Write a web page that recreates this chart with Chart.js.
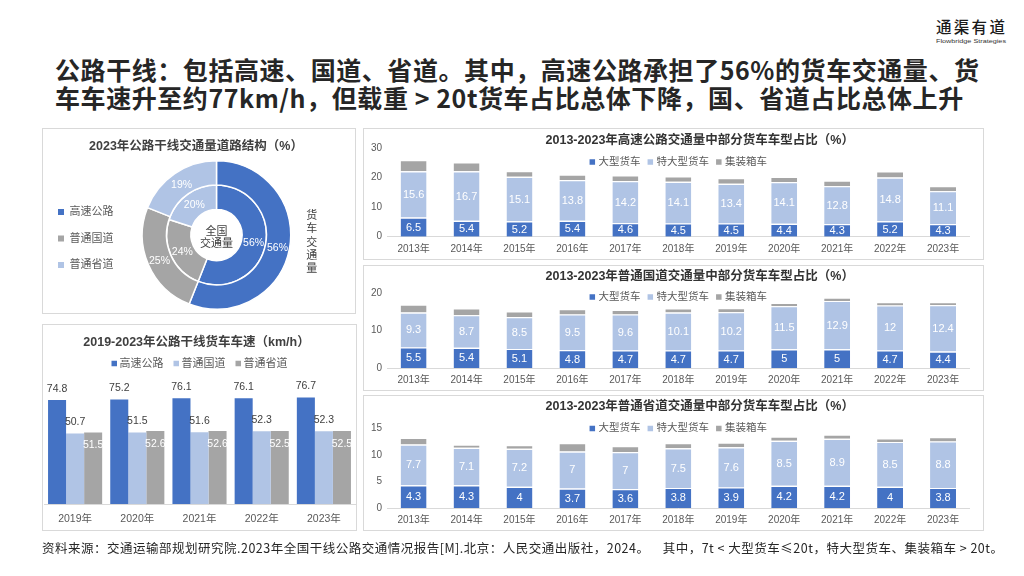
<!DOCTYPE html>
<html lang="zh-CN">
<head>
<meta charset="utf-8">
<title>公路干线货车交通量结构</title>
<script src="https://cdn.jsdelivr.net/npm/chart.js@4.4.1/dist/chart.umd.min.js"></script>
<style>
html,body{margin:0;padding:0;background:#fff;}
body{width:1024px;height:576px;position:relative;overflow:hidden;font-family:'Noto Sans CJK SC','Liberation Sans',sans-serif;}
.panel{position:absolute;border:1px solid #D9D9D9;box-sizing:border-box;background:#fff;}
.box{position:absolute;}
.hl{position:absolute;left:55px;font-size:25px;font-weight:700;color:#262626;white-space:nowrap;line-height:28px;}
#logo1{position:absolute;left:936px;top:17px;font-size:15.5px;font-weight:500;color:#1a1a1a;white-space:nowrap;letter-spacing:2.3px;line-height:18px;}
#logo2{position:absolute;left:936px;top:38px;font-size:6px;color:#333;white-space:nowrap;line-height:7px;font-family:'Liberation Sans',sans-serif;}
#foot{position:absolute;left:42px;top:540px;font-size:12.5px;color:#262626;white-space:pre;line-height:16px;}
</style>
</head>
<body>
<div id="logo1">通渠有道</div>
<div id="logo2">Flowbridge Strategies</div>
<div class="hl" id="hl1" style="top:55px">公路干线：包括高速、国道、省道。其中，高速公路承担了56%的货车交通量、货</div>
<div class="hl" id="hl2" style="top:83px">车车速升至约77km/h，但载重 &gt; 20t货车占比总体下降，国、省道占比总体上升</div>

<div class="panel" style="left:42px;top:128px;width:314px;height:186px"></div>
<div class="panel" style="left:42px;top:324px;width:315px;height:207px"></div>
<div class="panel" style="left:363px;top:128px;width:621px;height:132px"></div>
<div class="panel" style="left:363px;top:265px;width:621px;height:126px"></div>
<div class="panel" style="left:363px;top:395px;width:621px;height:136px"></div>

<div class="box" style="left:42px;top:129px;width:314px;height:184px"><canvas id="cPie"></canvas></div>
<div class="box" style="left:42px;top:325px;width:315px;height:215px"><canvas id="cSpeed"></canvas></div>
<div class="box" style="left:363px;top:129px;width:620px;height:135px"><canvas id="cExp"></canvas></div>
<div class="box" style="left:363px;top:266px;width:620px;height:130px"><canvas id="cNat"></canvas></div>
<div class="box" style="left:363px;top:395px;width:620px;height:141px"><canvas id="cProv"></canvas></div>

<div id="foot">资料来源：交通运输部规划研究院.2023年全国干线公路交通情况报告[M].北京：人民交通出版社，2024。    其中，7t &lt; 大型货车≤20t，特大型货车、集装箱车 &gt; 20t。</div>

<script>
// ---------------- data ----------------
const roadTypes = ['高速公路', '普通国道', '普通省道'];
const truckVolumeShare = [56, 25, 19];   // outer ring: 货车交通量
const totalVolumeShare = [56, 24, 20];   // inner ring: 全国交通量

const speedYears = ['2019年', '2020年', '2021年', '2022年', '2023年'];
const speedExpressway = [74.8, 75.2, 76.1, 76.1, 76.7];
const speedNational = [50.7, 51.5, 51.6, 52.3, 52.3];
const speedProvincial = [51.5, 52.6, 52.6, 52.5, 52.5];

const years = ['2013年', '2014年', '2015年', '2016年', '2017年', '2018年', '2019年', '2020年', '2021年', '2022年', '2023年'];
const truckTypes = ['大型货车', '特大型货车', '集装箱车'];

const expLarge = [6.5, 5.4, 5.2, 5.4, 4.6, 4.5, 4.5, 4.4, 4.3, 5.2, 4.3];
const expXLarge = [15.6, 16.7, 15.1, 13.8, 14.2, 14.1, 13.4, 14.1, 12.8, 14.8, 11.1];
const expContainer = [3.8, 3.1, 1.9, 1.8, 2.0, 1.8, 1.9, 1.8, 1.9, 2.1, 1.7];
const expTicks = [0, 10, 20, 30];

const natLarge = [5.5, 5.4, 5.1, 4.8, 4.7, 4.7, 4.7, 5, 5, 4.7, 4.4];
const natXLarge = [9.3, 8.7, 8.5, 9.5, 9.6, 10.1, 10.2, 11.5, 12.9, 12, 12.4];
const natContainer = [2.1, 1.8, 1.5, 1.4, 1.2, 1.1, 1.1, 0.9, 0.9, 0.9, 0.8];
const natTicks = [0, 10, 20];

const provLarge = [4.3, 4.3, 4, 3.7, 3.6, 3.8, 3.9, 4.2, 4.2, 4, 3.8];
const provXLarge = [7.7, 7.1, 7.2, 7, 7, 7.5, 7.6, 8.5, 8.9, 8.5, 8.8];
const provContainer = [1.3, 0.6, 0.7, 1.6, 1.1, 1.0, 0.9, 0.8, 0.8, 0.7, 0.8];
const provTicks = [0, 5, 10, 15];

// ---------------- style ----------------
const FONT = "'Liberation Sans','Noto Sans CJK SC',sans-serif";
const BLUE = '#4472C4', LIGHT = '#B0C4E5', GRAY = '#A5A5A5';
Chart.defaults.font.family = FONT;
Chart.defaults.color = '#595959';
Chart.defaults.animation = false;

// ---------------- plugins ----------------
const tweak = {
  id: 'tweak',
  afterLayout(chart, args, o) {
    const dx = o && o.titleDx;
    if (dx && chart.titleBlock) { chart.titleBlock.left += dx; chart.titleBlock.right += dx; }
    const dy = o && o.legendDy;
    if (dy && chart.legend) { chart.legend.top += dy; chart.legend.bottom += dy; }
  }
};

const boxLegend = {
  id: 'boxLegend',
  afterDraw(chart, args, o) {
    const ctx = chart.ctx;
    ctx.save();
    ctx.font = o.size + 'px ' + FONT;
    ctx.textAlign = 'left'; ctx.textBaseline = 'middle';
    const items = chart.data.datasets.map(d => ({ text: d.label, color: d.backgroundColor }));
    const widths = items.map(it => o.box + o.textGap + ctx.measureText(it.text).width);
    const total = widths.reduce((a, b) => a + b, 0) + o.itemGap * (items.length - 1);
    let x = (chart.chartArea.left + chart.chartArea.right) / 2 - total / 2;
    items.forEach((it, i) => {
      ctx.fillStyle = it.color;
      ctx.fillRect(x, o.y - o.box / 2, o.box, o.box);
      ctx.fillStyle = '#595959';
      ctx.fillText(it.text, x + o.box + o.textGap, o.y);
      x += widths[i] + o.itemGap;
    });
    ctx.restore();
  }
};

const segLabels = {
  id: 'segLabels',
  afterDatasetsDraw(chart, args, o) {
    const ctx = chart.ctx;
    ctx.save();
    ctx.font = o.size + 'px ' + FONT;
    ctx.fillStyle = o.color;
    ctx.textAlign = 'center'; ctx.textBaseline = 'middle';
    o.datasets.forEach(di => {
      const ds = chart.data.datasets[di];
      chart.getDatasetMeta(di).data.forEach((bar, i) => {
        const p = bar.getProps(['x', 'y', 'base'], true);
        ctx.fillText(String(ds.data[i]), p.x, (p.y + p.base) / 2 + 0.5);
      });
    });
    ctx.restore();
  }
};

const speedLabels = {
  id: 'speedLabels',
  afterDatasetsDraw(chart, args, o) {
    const ctx = chart.ctx;
    ctx.save();
    ctx.font = o.size + 'px ' + FONT;
    ctx.textAlign = 'center'; ctx.textBaseline = 'middle';
    chart.data.datasets.forEach((ds, di) => {
      const inside = o.inside.includes(di);
      chart.getDatasetMeta(di).data.forEach((bar, i) => {
        ctx.fillStyle = inside ? '#FFFFFF' : '#404040';
        ctx.fillText(ds.data[i].toFixed(1), bar.x, inside ? bar.y + o.insideOffset : bar.y - o.aboveOffset);
      });
    });
    ctx.restore();
  }
};

const pieDecor = {
  id: 'pieDecor',
  afterDatasetsDraw(chart, args, o) {
    const ctx = chart.ctx;
    ctx.save();
    ctx.textAlign = 'center'; ctx.textBaseline = 'middle';
    ctx.font = o.labelSize + 'px ' + FONT;
    ctx.fillStyle = '#FFFFFF';
    chart.data.datasets.forEach((ds, di) => {
      chart.getDatasetMeta(di).data.forEach((arc, i) => {
        const p = arc.getCenterPoint();
        ctx.fillText(ds.data[i] + '%', p.x, p.y + 1);
      });
    });
    const arc0 = chart.getDatasetMeta(0).data[0];
    ctx.fillStyle = '#404040';
    ctx.font = o.textSize + 'px ' + FONT;
    o.centerLines.forEach((t, k) => ctx.fillText(t, arc0.x, arc0.y + o.centerOffsets[k]));
    const vx = chart.chartArea.right + o.sideGap;
    Array.from(o.sideText).forEach((ch, k) => ctx.fillText(ch, vx, o.sideTop + k * o.sideStep));
    ctx.restore();
  }
};

// ---------------- doughnut ----------------
new Chart(document.getElementById('cPie'), {
  type: 'doughnut',
  data: {
    labels: roadTypes,
    datasets: [
      { data: truckVolumeShare, backgroundColor: [BLUE, GRAY, LIGHT], borderColor: '#fff', borderWidth: 1.5, hoverOffset: 0 },
      { data: totalVolumeShare, backgroundColor: [BLUE, GRAY, LIGHT], borderColor: '#fff', borderWidth: 1.5, hoverOffset: 0 }
    ]
  },
  options: {
    responsive: true, maintainAspectRatio: false, animation: false,
    cutout: '34.5%',
    layout: { padding: { left: 0.5, right: 46.5, top: 0, bottom: 3 } },
    plugins: {
      title: { display: true, text: '2023年公路干线交通量道路结构（%）', color: '#404040',
        font: { size: 12.5, weight: 'bold', lineHeight: 1.2 }, padding: { top: 10, bottom: 6 } },
      legend: { position: 'left',
        labels: { boxWidth: 6, boxHeight: 6, padding: 15.5, font: { size: 11 }, color: '#595959',
          generateLabels(chart) {
            const items = Chart.overrides.doughnut.plugins.legend.labels.generateLabels(chart);
            items.forEach(it => { it.lineWidth = 0; });
            return items;
          } } },
      tooltip: { enabled: false },
      tweak: { titleDx: 20, legendDy: 19 },
      pieDecor: { labelSize: 10.5, textSize: 11, centerLines: ['全国', '交通量'], centerOffsets: [-3, 9],
        sideText: '货车交通量', sideGap: 2.2, sideTop: 87, sideStep: 13.3 }
    }
  },
  plugins: [tweak, pieDecor]
});

// ---------------- speed ----------------
new Chart(document.getElementById('cSpeed'), {
  type: 'bar',
  data: {
    labels: speedYears,
    datasets: [
      { label: roadTypes[0], data: speedExpressway, backgroundColor: BLUE },
      { label: roadTypes[1], data: speedNational, backgroundColor: LIGHT },
      { label: roadTypes[2], data: speedProvincial, backgroundColor: GRAY }
    ].map(d => Object.assign(d, { categoryPercentage: 0.87, barPercentage: 1 }))
  },
  options: {
    responsive: true, maintainAspectRatio: false, animation: false,
    layout: { padding: { left: 2, right: 2, top: 0, bottom: 6 } },
    scales: {
      x: { grid: { display: false, drawTicks: false }, border: { display: true, color: '#D9D9D9' },
        ticks: { padding: 8.7, font: { size: 10.5 }, color: '#595959' } },
      y: { display: false, min: 0, max: 90 }
    },
    plugins: {
      title: { display: true, text: '2019-2023年公路干线货车车速（km/h）', color: '#404040',
        font: { size: 12.5, weight: 'bold', lineHeight: 0.8 }, padding: { top: 13, bottom: 31 } },
      legend: { display: false },
      tooltip: { enabled: false },
      tweak: { titleDx: -3 },
      boxLegend: { y: 38.5, size: 11, box: 5.5, textGap: 2.5, itemGap: 10 },
      speedLabels: { size: 10.5, inside: [2], insideOffset: 13, aboveOffset: 11.5 }
    }
  },
  plugins: [tweak, boxLegend, speedLabels]
});

// ---------------- stacked share charts ----------------
function makeStack(id, titleText, large, xlarge, cont, ticks, cfg) {
  return new Chart(document.getElementById(id), {
    type: 'bar',
    data: {
      labels: years,
      datasets: [
        { label: truckTypes[0], data: large, backgroundColor: BLUE },
        { label: truckTypes[1], data: xlarge, backgroundColor: LIGHT },
        { label: truckTypes[2], data: cont, backgroundColor: GRAY }
      ].map(d => Object.assign(d, { borderColor: '#fff', borderWidth: { top: 1.2, left: 0, right: 0, bottom: 0 },
        categoryPercentage: 1, barPercentage: 0.49 }))
    },
    options: {
      responsive: true, maintainAspectRatio: false, animation: false,
      layout: { padding: { left: 3, right: 13.5, top: 0, bottom: cfg.padBottom } },
      scales: {
        x: { stacked: true, grid: { display: false, drawTicks: false }, border: { display: true, color: '#D9D9D9' },
          ticks: { padding: 6.3, font: { size: 10 }, color: '#595959' } },
        y: { stacked: true, min: ticks[0], max: ticks[ticks.length - 1],
          grid: { display: false, drawTicks: false }, border: { display: false },
          ticks: { stepSize: ticks[1] - ticks[0], padding: 5, font: { size: 10 }, color: '#595959' } }
      },
      plugins: {
        title: { display: true, text: titleText, color: '#333333',
          font: { size: 12.5, weight: 'bold', lineHeight: 1 }, padding: { top: cfg.titleTop, bottom: cfg.titleBottom } },
        legend: { display: false },
        tooltip: { enabled: false },
        tweak: { titleDx: 32 },
        boxLegend: { y: cfg.legendY, size: 10.5, box: 5.5, textGap: 3.5, itemGap: 7 },
        segLabels: { datasets: [0, 1], size: 11, color: '#FFFFFF' }
      }
    },
    plugins: [tweak, boxLegend, segLabels]
  });
}

makeStack('cExp', '2013-2023年高速公路交通量中部分货车车型占比（%）', expLarge, expXLarge, expContainer, expTicks,
  { titleTop: 5.75, titleBottom: 0.75, padBottom: 2.7, legendY: 33 });
makeStack('cNat', '2013-2023年普通国道交通量中部分货车车型占比（%）', natLarge, natXLarge, natContainer, natTicks,
  { titleTop: 4.75, titleBottom: 9.75, padBottom: 3.4, legendY: 31 });
makeStack('cProv', '2013-2023年普通省道交通量中部分货车车型占比（%）', provLarge, provXLarge, provContainer, provTicks,
  { titleTop: 5.75, titleBottom: 15.45, padBottom: 3.4, legendY: 33.5 });

// ---------------- fit headline / footer widths ----------------
function fitSpacing(el, target) {
  el.style.letterSpacing = '0px';
  const n = Array.from(el.textContent).length;
  const w = el.getBoundingClientRect().width;
  return (target - w) / (n - 1);
}
function fitAll() {
  const h1 = document.getElementById('hl1'), h2 = document.getElementById('hl2');
  const ls = fitSpacing(h1, 924);
  h1.style.letterSpacing = ls + 'px';
  h2.style.letterSpacing = ls + 'px';
  const f = document.getElementById('foot');
  const lf = fitSpacing(f, 961);
  f.style.letterSpacing = lf + 'px';
  const l2 = document.getElementById('logo2');
  l2.style.letterSpacing = '0px';
  l2.style.transform = 'none';
  const wl = l2.getBoundingClientRect().width;
  l2.style.transformOrigin = '0 0';
  l2.style.transform = 'scaleX(' + (70 / wl) + ')';
}
fitAll();
if (document.fonts && document.fonts.ready) document.fonts.ready.then(fitAll);
</script>
</body>
</html>
